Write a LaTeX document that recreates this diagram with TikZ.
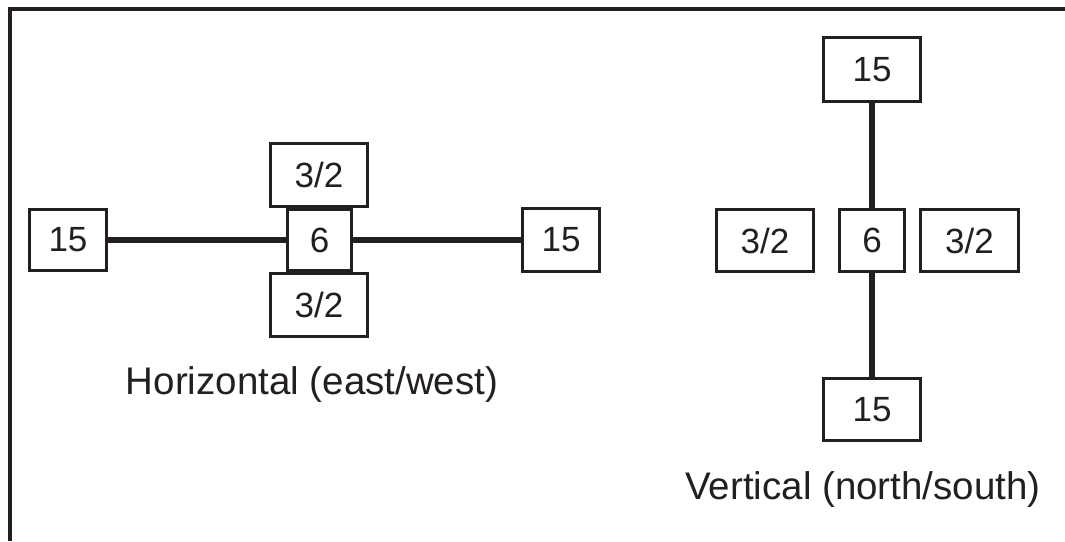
\documentclass[tikz,border=0pt]{standalone}
\usepackage{fontspec}
\setmainfont{Liberation Sans}
\definecolor{ink}{HTML}{231F20}
\begin{document}
\begin{tikzpicture}[x=1pt,y=-1pt,
  box/.style={draw=ink, line width=3pt, rectangle, inner sep=0pt, text=ink,
    font=\fontsize{35}{40}\selectfont},
  link/.style={draw=ink, line width=6pt},
  caption/.style={text=ink, inner sep=0pt, font=\fontsize{38.5}{44}\selectfont},
  frame/.style={draw=ink, line width=4pt}]
\useasboundingbox (0,0) rectangle (1065,541);
\fill[white] (0,0) rectangle (1065,541);
% frame (top and left edges)
\coordinate (fbl) at (10,541);
\coordinate (ftl) at (10,8.5);
\coordinate (ftr) at (1065,8.5);
\draw[frame] (fbl) -- (ftl) -- (ftr);
% horizontal arrangement
\node[box, minimum width=77pt, minimum height=61pt] (h15l) at (68,240) {15};
\node[box, minimum width=64pt, minimum height=61pt] (h6) at (319.5,240) {6};
\node[box, minimum width=97pt, minimum height=63pt] (h32t) at (319,175) {3/2};
\node[box, minimum width=97pt, minimum height=63pt] (h32b) at (319,305) {3/2};
\node[box, minimum width=77pt, minimum height=63pt] (h15r) at (561,240) {15};
\draw[link] (h15l.east) -- (h6.west);
\draw[link] (h6.east) -- (h15r.west);
\node[caption] (hlab) at (312,385) {Horizontal (east/west)};
% vertical arrangement
\node[box, minimum width=97pt, minimum height=64pt] (v15t) at (872,69.5) {15};
\node[box, minimum width=65pt, minimum height=62pt] (v6) at (872,240.5) {6};
\node[box, minimum width=97pt, minimum height=62pt] (v32l) at (765,240.5) {3/2};
\node[box, minimum width=98pt, minimum height=62pt] (v32r) at (969.5,240.5) {3/2};
\node[box, minimum width=97pt, minimum height=62pt] (v15b) at (872,409.5) {15};
\draw[link] (v15t.south) -- (v6.north);
\draw[link] (v6.south) -- (v15b.north);
\node[caption] (vlab) at (863,490) {Vertical (north/south)};
\end{tikzpicture}
\end{document}
